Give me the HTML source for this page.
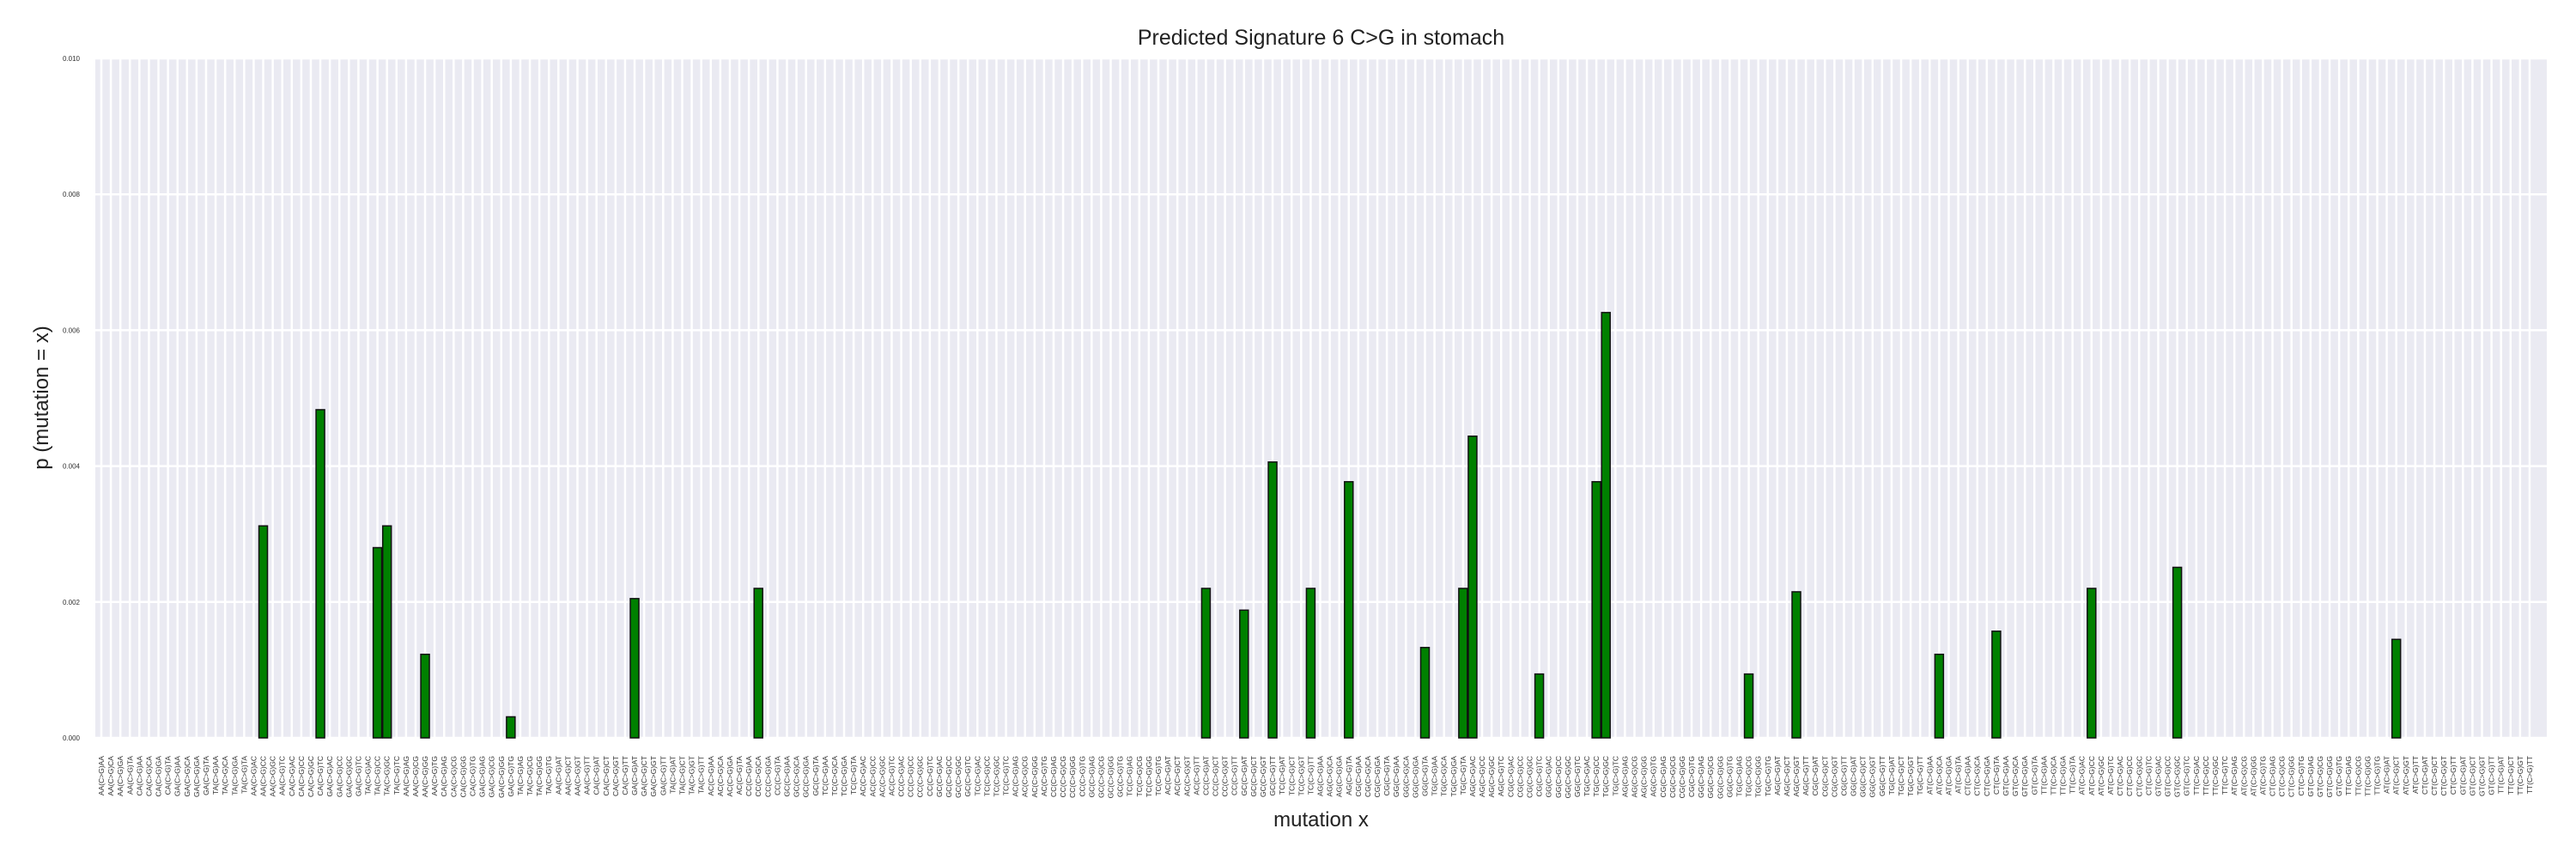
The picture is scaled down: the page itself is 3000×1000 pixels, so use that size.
<!DOCTYPE html>
<html><head><meta charset="utf-8"><style>
html,body{margin:0;padding:0;background:#fff;}
svg{display:block;font-family:"Liberation Sans",Arial,sans-serif;}
</style></head><body>
<svg id="chart" width="3000" height="1000"></svg>
<script>
const bases = ['A','C','G','T'];
const barIndices = [17,23,29,30,34,43,56,69,116,120,123,127,131,139,143,144,151,157,158,173,178,193,199,209,218,241];
const barValues = [0.00312,0.00483,0.00280,0.00312,0.00123,0.00031,0.00205,0.00220,0.00220,0.00188,0.00406,0.00220,0.00377,0.00133,0.00220,0.00444,0.00094,0.00377,0.00626,0.00094,0.00215,0.00123,0.00157,0.00220,0.00251,0.00145];
const yTicks = [0,0.002,0.004,0.006,0.008,0.010];
const yTickLabels = ['0.000','0.002','0.004','0.006','0.008','0.010'];

const categories = [];
for (const l2 of bases) for (const r2 of bases) for (const l1 of bases) for (const r1 of bases)
  categories.push(l1 + l2 + '(C>G)' + r1 + r2);
const values = categories.map(() => 0);
barIndices.forEach((idx, k) => { values[idx] = barValues[k]; });

const NS = 'http://www.w3.org/2000/svg';
const svg = document.getElementById('chart');
const L = 111, R = 2966, T = 68, B = 859;
const x0 = 118, step = 11.09;
const xPos = i => x0 + step * i;
const yPos = v => B - (v / 0.010) * (B - T);
function mk(tag, attrs, parent) {
  const e = document.createElementNS(NS, tag);
  for (const k in attrs) e.setAttribute(k, attrs[k]);
  (parent || svg).appendChild(e);
  return e;
}
const bg = mk('rect', {x: L, y: T, width: R - L, height: B - T, fill: '#EAEAF2'});



const grid = mk('g', {});


yTicks.forEach(v => {
  mk('line', {x1: L, x2: R, y1: yPos(v), y2: yPos(v), stroke: '#fff', 'stroke-width': 2.5}, grid);
});
categories.forEach((c, i) => {
  mk('line', {x1: xPos(i), x2: xPos(i), y1: T, y2: B, stroke: '#fff', 'stroke-width': 2.5}, grid);
});

const bars = mk('g', {});


const bw = step * 0.9;
values.forEach((v, i) => {
  if (v <= 0) return;
  const r = mk('rect', {x: xPos(i) - bw / 2, y: yPos(v), width: bw, height: B - yPos(v), fill: '#008000', stroke: '#111', 'stroke-width': 1.5}, bars);
  
  
});

const yt = mk('g', {});


yTicks.forEach((v, k) => {
  const t = mk('text', {x: 93, y: yPos(v) + 3, 'text-anchor': 'end', 'font-size': 8, fill: '#333'}, yt);
  t.textContent = yTickLabels[k];
});

const xt = mk('g', {});


categories.forEach((c, i) => {
  const x = xPos(i) + 3;
  const t = mk('text', {x: x, y: 880, 'text-anchor': 'end', 'font-size': 8.5, fill: '#333', transform: 'rotate(-90 ' + x + ' 880)'}, xt);
  t.textContent = c;
});

const title = mk('text', {x: (L + R) / 2, y: 52, 'text-anchor': 'middle', 'font-size': 25, fill: '#222'});
title.textContent = 'Predicted Signature 6 C>G in stomach';



const xl = mk('text', {x: (L + R) / 2, y: 962, 'text-anchor': 'middle', 'font-size': 24, fill: '#222'});
xl.textContent = 'mutation x';



const yl = mk('text', {x: 56, y: 463, 'text-anchor': 'middle', 'font-size': 24, fill: '#222', transform: 'rotate(-90 56 463)'});
yl.textContent = 'p (mutation = x)';


</script>
</body></html>
